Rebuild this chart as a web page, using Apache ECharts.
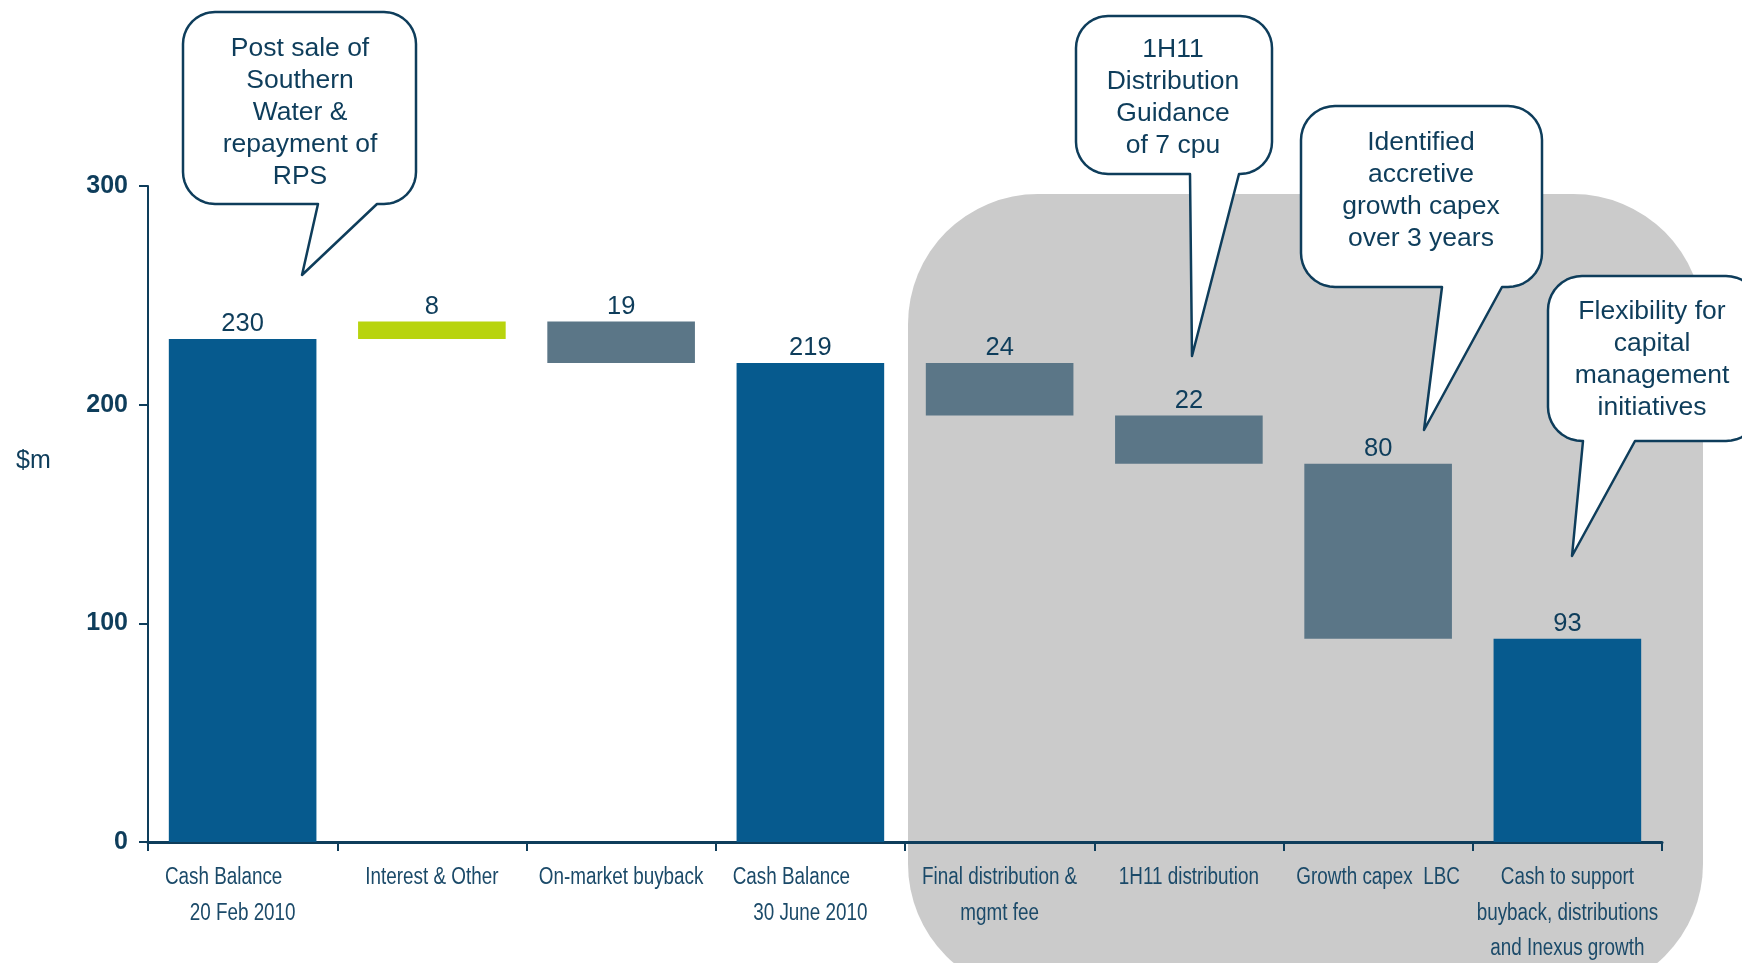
<!DOCTYPE html>
<html>
<head>
<meta charset="utf-8">
<title>Cash balance bridge</title>
<script src="https://cdn.jsdelivr.net/npm/echarts@6/dist/echarts.min.js"></script>
<style>
  html, body { margin: 0; padding: 0; background: #ffffff; }
  #chart { width: 1742px; height: 963px; }
</style>
</head>
<body>
<div id="chart"></div>
<script>
// Bridge steps, $m
const categories = [
  'Cash Balance\n20 Feb 2010',
  'Interest & Other',
  'On-market buyback',
  'Cash Balance\n30 June 2010',
  'Final distribution &\nmgmt fee',
  '1H11 distribution',
  'Growth capex  LBC',
  'Cash to support\nbuyback, distributions\nand Inexus growth'
];
const changes = [230, 8, -19, 219, -24, -22, -80, 93];
const stepKinds = ['total', 'increase', 'decrease', 'total', 'decrease', 'decrease', 'decrease', 'total'];
const yTickValues = [0, 100, 200, 300];

const callouts = [
  'Post sale of\nSouthern\nWater &\nrepayment of\nRPS',
  '1H11\nDistribution\nGuidance\nof 7 cpu',
  'Identified\naccretive\ngrowth capex\nover 3 years',
  'Flexibility for\ncapital\nmanagement\ninitiatives'
];

const NAVY = '#0E3D5B';
const CAT_COLOR = '#1B4A69';
const SANS = '"Liberation Sans", Arial, sans-serif';
const kindColor = { total: '#065A8E', increase: '#B8D40E', decrease: '#5B7687' };

// Floating-bar bases and heights from the running balance
const bases = [];
const heights = [];
let level = 0;
changes.forEach((v, i) => {
  const k = stepKinds[i];
  if (k === 'total') {
    bases.push(0); heights.push(v); level = v;
  } else if (k === 'increase') {
    bases.push(level); heights.push(v); level += v;
  } else {
    level += v; bases.push(level); heights.push(-v);
  }
});

// Speech-bubble outline: rounded box with a pointer on its lower edge
function bubble(x0, y0, x1, y1, r, tailL, tailR, tip) {
  const pts = [];
  const arc = (cx, cy, a0, a1) => {
    const n = 10;
    for (let j = 0; j <= n; j++) {
      const a = (a0 + (a1 - a0) * j / n) * Math.PI / 180;
      pts.push([cx + r * Math.cos(a), cy + r * Math.sin(a)]);
    }
  };
  arc(x1 - r, y0 + r, -90, 0);
  arc(x1 - r, y1 - r, 0, 90);
  pts.push([tailR, y1]);
  pts.push(tip);
  pts.push([tailL, y1]);
  arc(x0 + r, y1 - r, 90, 180);
  arc(x0 + r, y0 + r, 180, 270);
  return pts;
}

const bubbleShapes = [
  bubble(183, 12, 416, 204, 32, 318, 377, [302, 275]),
  bubble(1076, 16, 1272, 174, 32, 1190, 1239, [1192, 356]),
  bubble(1301, 106, 1542, 287, 34, 1442, 1502, [1424, 430]),
  bubble(1548, 276, 1760, 441, 34, 1583, 1635, [1572, 556])
];
const bubbleText = [[300, 113], [1173, 98], [1421, 191], [1652, 360]];

const graphics = [
  {
    type: 'rect', z: -10, silent: true,
    shape: { x: 908, y: 194, width: 795, height: 800, r: 130 },
    style: { fill: '#CBCBCB' }
  },
  {
    type: 'text', left: 16, top: 449,
    style: { text: '$m', font: '25px ' + SANS, fill: NAVY }
  }
];
bubbleShapes.forEach((pts, i) => {
  graphics.push({
    type: 'polygon', z: 50,
    shape: { points: pts },
    style: { fill: '#ffffff', stroke: NAVY, lineWidth: 2.5, lineJoin: 'round' }
  });
  graphics.push({
    type: 'text', z: 51,
    x: bubbleText[i][0], y: bubbleText[i][1],
    style: {
      text: callouts[i], fill: NAVY,
      font: '26.5px ' + SANS,
      lineHeight: 32, align: 'center', verticalAlign: 'middle'
    }
  });
});

const chart = echarts.init(document.getElementById('chart'), null, { renderer: 'canvas' });
chart.setOption({
  animation: false,
  backgroundColor: '#ffffff',
  grid: { left: 148, right: 80, top: 186, bottom: 121, containLabel: false },
  xAxis: {
    type: 'category',
    data: categories,
    axisLine: { lineStyle: { color: NAVY, width: 3 } },
    axisTick: { show: true, length: 9, lineStyle: { color: NAVY, width: 2 } },
    axisLabel: { show: false }
  },
  yAxis: {
    type: 'value',
    min: yTickValues[0],
    max: yTickValues[yTickValues.length - 1],
    interval: yTickValues[1] - yTickValues[0],
    splitLine: { show: false },
    axisLine: { show: true, lineStyle: { color: NAVY, width: 2 } },
    axisTick: { show: true, length: 9, lineStyle: { color: NAVY, width: 2 } },
    axisLabel: {
      margin: 20, color: NAVY, fontWeight: 'bold', fontSize: 25, fontFamily: SANS
    }
  },
  series: [
    {
      type: 'bar', stack: 'bridge', silent: true,
      barCategoryGap: '22%',
      itemStyle: { color: 'transparent' },
      data: bases
    },
    {
      type: 'bar', stack: 'bridge',
      barCategoryGap: '22%',
      data: heights.map((h, i) => ({ value: h, itemStyle: { color: kindColor[stepKinds[i]] } })),
      label: {
        show: true, position: 'top', distance: 2,
        color: NAVY, fontSize: 25.5, fontFamily: SANS,
        formatter: p => String(Math.abs(changes[p.dataIndex]))
      }
    }
  ],
  graphic: graphics
});

// Category names in a narrow face: placed at each category's pixel centre
// from the axis scale, squeezed horizontally.
const axisY = chart.convertToPixel({ yAxisIndex: 0 }, 0);
categories.forEach((name, i) => {
  const cx = chart.convertToPixel({ xAxisIndex: 0 }, i);
  name.split('\n').forEach((line, j) => {
    // the "Cash Balance" heading sits a little left of its date line
    const dx = (j === 0 && line === 'Cash Balance') ? -19 : 0;
    graphics.push({
      type: 'text', silent: true,
      x: cx + dx, y: axisY + 36 + j * 35.5,
      scaleX: 0.82,
      style: {
        text: line, fill: CAT_COLOR, font: '23px ' + SANS,
        align: 'center', verticalAlign: 'middle'
      }
    });
  });
});
chart.setOption({ graphic: graphics });
</script>
</body>
</html>
